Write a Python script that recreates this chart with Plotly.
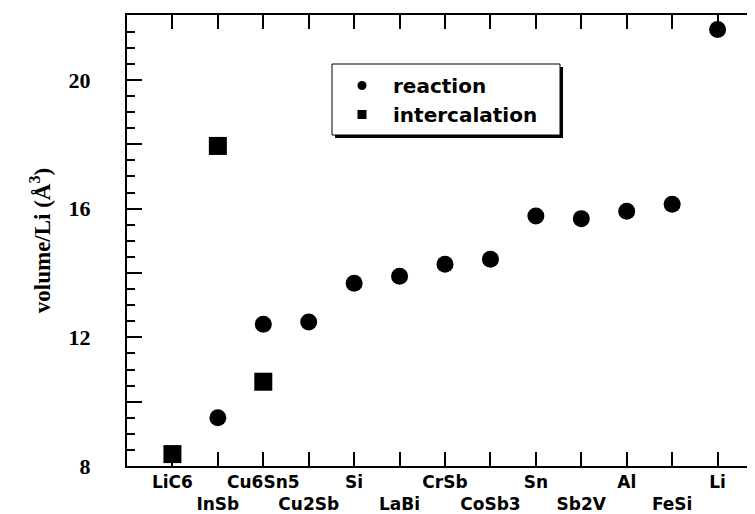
import plotly.graph_objects as go

categories = ["LiC6", "InSb", "Cu6Sn5", "Cu2Sb", "Si", "LaBi", "CrSb",
              "CoSb3", "Sn", "Sb2V", "Al", "FeSi", "Li"]
reaction_materials = ["InSb", "Cu6Sn5", "Cu2Sb", "Si", "LaBi", "CrSb",
                      "CoSb3", "Sn", "Sb2V", "Al", "FeSi", "Li"]
reaction_volume = [9.50, 12.41, 12.48, 13.68, 13.90, 14.27,
                   14.43, 15.77, 15.69, 15.92, 16.14, 21.57]
intercalation_materials = ["LiC6", "InSb", "Cu6Sn5"]
intercalation_volume = [8.37, 17.95, 10.62]
y_tick_values = [8, 10, 12, 14, 16, 18, 20, 22]
y_tick_labels = ["8", "", "12", "", "16", "", "20", ""]

OFF = 8  # page body margin
W, H = 755 - OFF, 514 - OFF
L, R, T, B = 127 - OFF, 0, 15 - OFF, 48
PW, PH = W - L - R, H - T - B
X_UNIT = 45.43
x_range = [-1, -1 + PW / X_UNIT]
y_range = [8, 22.02]

def px_x(p):
    return (p - OFF - L) / PW

def px_y(p):
    return (H - B - (p - OFF)) / PH

idx = list(range(len(categories)))
odd_idx = idx[1::2]

tick_font = dict(family="DejaVu Sans", size=17, color="black", weight="bold")

fig = go.Figure()
fig.add_trace(go.Scatter(
    x=[categories.index(m) for m in reaction_materials], y=reaction_volume,
    mode="markers", marker=dict(symbol="circle", size=17, color="black"),
    showlegend=False))
fig.add_trace(go.Scatter(
    x=[categories.index(m) for m in intercalation_materials], y=intercalation_volume,
    mode="markers", marker=dict(symbol="square", size=18, color="black"),
    showlegend=False))
# legend entries
fig.add_trace(go.Scatter(x=[None], y=[None], mode="markers", name="reaction",
                         marker=dict(symbol="circle", size=9, color="black"),
                         xaxis="x2"))
fig.add_trace(go.Scatter(x=[None], y=[None], mode="markers", name="intercalation",
                         marker=dict(symbol="square", size=9, color="black"),
                         yaxis="y2"))

fig.update_layout(
    width=W, height=H,
    margin=dict(l=L, r=R, t=T, b=B, pad=0),
    paper_bgcolor="white", plot_bgcolor="white",
    xaxis=dict(range=x_range, tickmode="array", tickvals=idx,
               ticktext=[categories[i] if i % 2 == 0 else "" for i in idx],
               ticks="inside", ticklen=14, tickwidth=2, tickcolor="black",
               showline=True, linewidth=2, linecolor="black", mirror="ticks",
               showgrid=False, zeroline=False, tickfont=tick_font),
    xaxis2=dict(range=x_range, overlaying="x", anchor="y", side="bottom",
                tickmode="array", tickvals=odd_idx,
                ticktext=[categories[i] for i in odd_idx],
                ticks="", showline=False, showgrid=False, zeroline=False,
                tickfont=tick_font, ticklabelstandoff=26),
    yaxis=dict(range=y_range, tickmode="array", tickvals=y_tick_values,
               ticktext=y_tick_labels,
               ticks="inside", ticklen=15, tickwidth=2, tickcolor="black",
               minor=dict(dtick=0.5, tick0=8, ticks="inside", ticklen=8,
                          tickwidth=2, tickcolor="black"),
               showline=True, linewidth=2, linecolor="black", mirror=False,
               showgrid=False, zeroline=False,
               tickfont=dict(family="Liberation Serif", size=22, color="black",
                             weight="bold"),
               ticklabelstandoff=30,
               title=dict(text="volume/Li (Å<sup>3</sup>)", standoff=12,
                          font=dict(family="Liberation Serif", size=23,
                                    color="black", weight="bold"))),
    yaxis2=dict(range=y_range, overlaying="y", anchor="x", side="right",
                tickmode="array", tickvals=y_tick_values,
                ticks="inside", ticklen=7, tickwidth=2, tickcolor="black",
                showticklabels=False, showline=False, showgrid=False,
                zeroline=False),
    legend=dict(x=px_x(331), y=px_y(66), xanchor="left", yanchor="top",
                bgcolor="rgba(0,0,0,0)", borderwidth=0, itemwidth=52,
                font=dict(family="DejaVu Sans", size=20, color="black",
                          weight="bold")),
    shapes=[
        dict(type="rect", xref="paper", yref="paper",
             x0=px_x(335), x1=px_x(563), y0=px_y(138), y1=px_y(67),
             fillcolor="black", line=dict(width=0), layer="above"),
        dict(type="rect", xref="paper", yref="paper",
             x0=px_x(332), x1=px_x(560), y0=px_y(135), y1=px_y(64),
             fillcolor="white", line=dict(color="black", width=1), layer="above"),
    ],
)

fig.write_html("out.html")
